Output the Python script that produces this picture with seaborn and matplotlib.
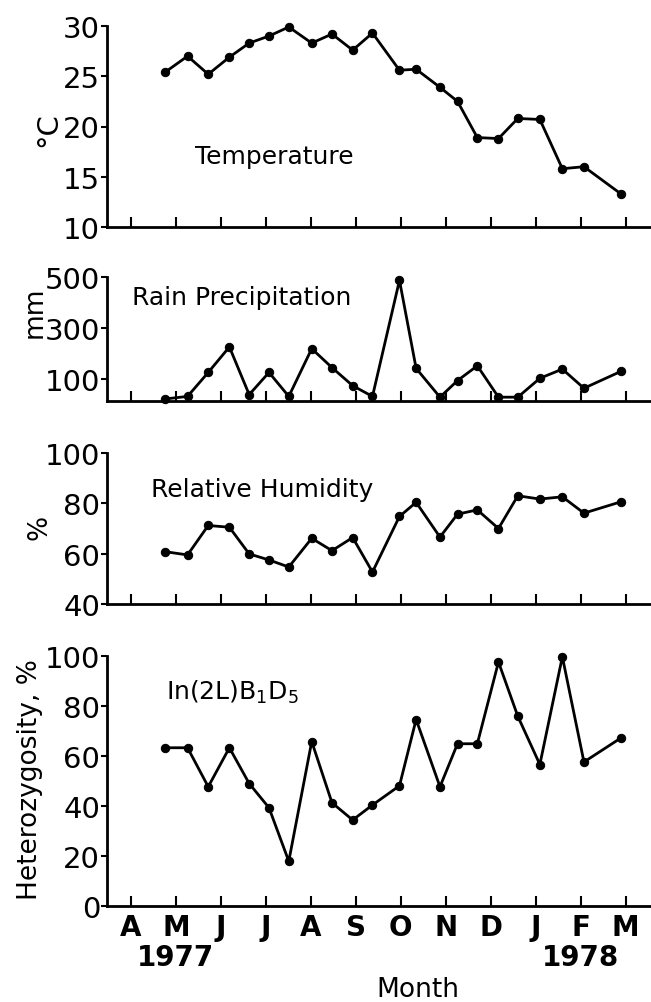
import matplotlib
matplotlib.use('Agg')
import matplotlib.pyplot as plt
import seaborn as sns
import pandas as pd

# sampling dates, in months after 1 April 1977
sample_month = [0.76, 1.26, 1.72, 2.19, 2.63, 3.07, 3.51, 4.02, 4.47, 4.93, 5.37,
                5.97, 6.34, 6.87, 7.26, 7.70, 8.17, 8.60, 9.09, 9.59, 10.07, 10.89]

temperature = [25.4, 27.0, 25.2, 26.9, 28.3, 29.0, 29.9, 28.3, 29.2, 27.6, 29.3,
               25.6, 25.7, 23.9, 22.5, 18.9, 18.8, 20.8, 20.7, 15.8, 16.0, 13.3]
rain = [22, 32, 126, 226, 39, 126, 32, 219, 145, 74, 32,
        487, 142, 29, 94, 152, 29, 29, 103, 139, 64, 130]
humidity = [60.8, 59.5, 71.2, 70.5, 59.9, 57.5, 54.7, 66.1, 61.2, 66.4, 52.7,
            74.8, 80.4, 66.6, 75.7, 77.4, 70.0, 83.0, 81.7, 82.6, 76.1, 80.6]
heterozygosity = [63.3, 63.3, 47.7, 63.3, 49.0, 39.3, 17.9, 65.8, 41.3, 34.4, 40.4,
                  48.1, 74.6, 47.7, 64.9, 64.9, 97.6, 75.9, 56.6, 99.7, 57.6, 67.2]

month_labels = ['A', 'M', 'J', 'J', 'A', 'S', 'O', 'N', 'D', 'J', 'F', 'M']
year_labels = ['1977', '1978']
year_month = [1, 10]  # under M 1977 and F 1978

df = pd.DataFrame({'month': sample_month, 'temp': temperature, 'rain': rain,
                   'rh': humidity, 'het': heterozygosity})

sns.set_style('ticks')
plt.rcParams['font.family'] = ['DejaVu Sans']
plt.rcParams['text.color'] = 'black'
plt.rcParams['xtick.color'] = 'black'
plt.rcParams['ytick.color'] = 'black'
plt.rcParams['axes.edgecolor'] = 'black'

W, H = 651, 1003
fig = plt.figure(figsize=(W / 100, H / 100), dpi=100)

# (column, top px, bottom px, ylim, yticks, title, title pos)
panels = [
    ('temp', 27, 228, (10, 30), [10, 15, 20, 25, 30], 'Temperature', (1.42, 17.1)),
    ('rain', 278, 402, (14, 500), [100, 300, 500], 'Rain Precipitation', (0.02, 422)),
    ('rh', 454, 605, (40, 100), [40, 60, 80, 100], 'Relative Humidity', (0.44, 85.7)),
    ('het', 657, 907, (0, 100), [0, 20, 40, 60, 80, 100],
     r'In(2L)B$\mathregular{_1}$D$\mathregular{_5}$', (0.78, 86)),
]

left_px = 107
axes = []
for col, top, bot, ylim, yt, title, tpos in panels:
    ax = fig.add_axes([left_px / W, 1 - bot / H, 1 - left_px / W, (bot - top) / H])
    sns.lineplot(data=df, x='month', y=col, ax=ax, color='black', linewidth=2,
                 marker='o', markersize=6, markeredgecolor='black', clip_on=False)
    ax.set_xlim(-0.53, 11.56)
    ax.set_ylim(*ylim)
    ax.set_yticks(yt)
    ax.set_xticks(range(12))
    ax.set_xlabel('')
    ax.set_ylabel('')
    for s in ['top', 'right']:
        ax.spines[s].set_visible(False)
    for s in ['left', 'bottom']:
        ax.spines[s].set_linewidth(2)
    ax.tick_params(axis='x', direction='in', length=7, width=1.5, pad=5, labelsize=20)
    ax.tick_params(axis='y', direction='out', length=4, width=1.5, pad=1, labelsize=21)
    ax.text(tpos[0], tpos[1], title, fontsize=18, ha='left', va='center')
    ax.patch.set_alpha(0)
    axes.append(ax)

for ax in axes[:-1]:
    ax.set_xticklabels([])
axes[-1].set_xticklabels(month_labels, fontweight='bold')

# years under their months
for yr, m in zip(year_labels, year_month):
    axes[-1].text(m, -0.205, yr, transform=axes[-1].get_xaxis_transform(),
                  ha='center', va='center', fontsize=20, fontweight='bold')

# axis titles placed by pixel position
fig.text(48 / W, 1 - 130 / H, '°C', rotation=90, ha='center', va='center', fontsize=21)
fig.text(35 / W, 1 - 312 / H, 'mm', rotation=90, ha='center', va='center', fontsize=19)
fig.text(40 / W, 1 - 527 / H, '%', rotation=90, ha='center', va='center', fontsize=19)
fig.text(30 / W, 1 - 780 / H, 'Heterozygosity, %', rotation=90, ha='center', va='center',
         fontsize=19)
fig.text(418 / W, 1 - 990 / H, 'Month', ha='center', va='center', fontsize=19)

fig.savefig('out.png', dpi=100)
